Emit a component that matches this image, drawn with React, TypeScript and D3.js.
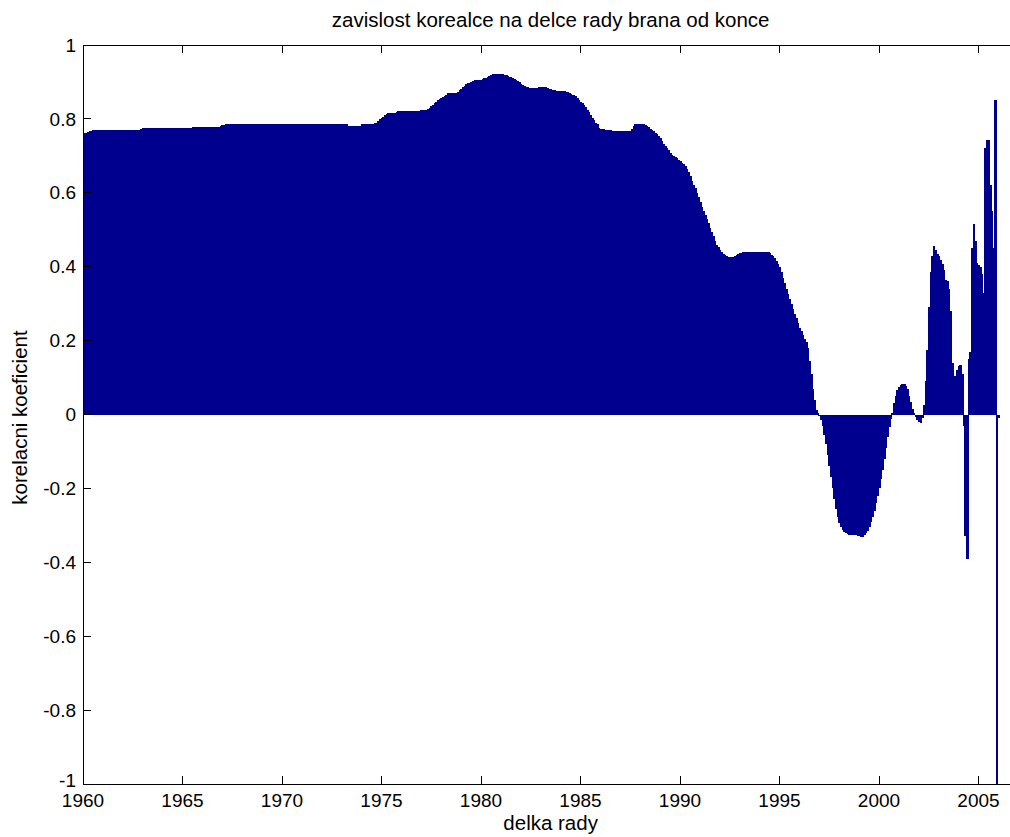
import React from "react";
import * as d3 from "d3";

// correlation coefficient for each monthly step (1960 Jan .. 2006 Jan)
const startYear = 1960;
const monthsPerYear = 12;
const korelace: number[] = [
  // 1960
  0.763, 0.763, 0.763, 0.764, 0.766, 0.768, 0.769, 0.77, 0.77, 0.77, 0.77, 0.77,
  // 1961
  0.77, 0.77, 0.77, 0.77, 0.77, 0.77, 0.77, 0.77, 0.77, 0.77, 0.77, 0.77,
  // 1962
  0.77, 0.77, 0.77, 0.77, 0.77, 0.77, 0.77, 0.77, 0.77, 0.77, 0.77, 0.773,
  // 1963
  0.775, 0.776, 0.776, 0.776, 0.776, 0.776, 0.776, 0.776, 0.776, 0.776, 0.776, 0.776,
  // 1964
  0.776, 0.776, 0.776, 0.776, 0.776, 0.776, 0.776, 0.776, 0.776, 0.776, 0.776, 0.776,
  // 1965
  0.776, 0.776, 0.776, 0.776, 0.776, 0.776, 0.778, 0.778, 0.778, 0.778, 0.778, 0.778,
  // 1966
  0.778, 0.778, 0.778, 0.778, 0.778, 0.778, 0.778, 0.778, 0.778, 0.778, 0.778, 0.781,
  // 1967
  0.783, 0.784, 0.785, 0.786, 0.786, 0.786, 0.786, 0.786, 0.786, 0.786, 0.786, 0.786,
  // 1968
  0.786, 0.786, 0.786, 0.786, 0.786, 0.786, 0.786, 0.786, 0.786, 0.786, 0.786, 0.786,
  // 1969
  0.786, 0.786, 0.786, 0.786, 0.786, 0.786, 0.786, 0.786, 0.786, 0.786, 0.786, 0.786,
  // 1970
  0.786, 0.786, 0.786, 0.786, 0.786, 0.786, 0.786, 0.786, 0.786, 0.786, 0.786, 0.786,
  // 1971
  0.786, 0.786, 0.786, 0.786, 0.786, 0.786, 0.786, 0.786, 0.786, 0.786, 0.786, 0.786,
  // 1972
  0.786, 0.786, 0.786, 0.786, 0.786, 0.786, 0.786, 0.786, 0.786, 0.786, 0.786, 0.786,
  // 1973
  0.786, 0.786, 0.786, 0.786, 0.782, 0.782, 0.782, 0.782, 0.782, 0.782, 0.782, 0.782,
  // 1974
  0.786, 0.786, 0.786, 0.786, 0.786, 0.786, 0.786, 0.786, 0.788, 0.79, 0.795, 0.8,
  // 1975
  0.803, 0.806, 0.81, 0.814, 0.815, 0.817, 0.817, 0.817, 0.817, 0.819, 0.821, 0.821,
  // 1976
  0.821, 0.821, 0.821, 0.821, 0.821, 0.821, 0.821, 0.821, 0.821, 0.821, 0.821, 0.822,
  // 1977
  0.824, 0.824, 0.824, 0.824, 0.827, 0.83, 0.834, 0.838, 0.842, 0.846, 0.85, 0.853,
  // 1978
  0.856, 0.86, 0.863, 0.866, 0.871, 0.871, 0.871, 0.871, 0.871, 0.871, 0.874, 0.877,
  // 1979
  0.881, 0.885, 0.889, 0.895, 0.898, 0.898, 0.9, 0.903, 0.905, 0.905, 0.905, 0.906,
  // 1980
  0.906, 0.908, 0.91, 0.912, 0.914, 0.916, 0.918, 0.921, 0.922, 0.922, 0.922, 0.922,
  // 1981
  0.922, 0.921, 0.919, 0.918, 0.916, 0.914, 0.913, 0.911, 0.908, 0.905, 0.902, 0.899,
  // 1982
  0.895, 0.892, 0.889, 0.887, 0.885, 0.884, 0.883, 0.883, 0.883, 0.883, 0.884, 0.886,
  // 1983
  0.886, 0.886, 0.886, 0.886, 0.884, 0.882, 0.88, 0.879, 0.877, 0.876, 0.876, 0.876,
  // 1984
  0.876, 0.876, 0.875, 0.874, 0.872, 0.87, 0.868, 0.866, 0.864, 0.862, 0.857, 0.852,
  // 1985
  0.847, 0.842, 0.837, 0.832, 0.825, 0.818, 0.81, 0.803, 0.797, 0.79, 0.785, 0.776,
  // 1986
  0.774, 0.772, 0.772, 0.771, 0.77, 0.77, 0.769, 0.768, 0.767, 0.766, 0.766, 0.766,
  // 1987
  0.766, 0.766, 0.766, 0.766, 0.766, 0.766, 0.768, 0.774, 0.78, 0.785, 0.786, 0.786,
  // 1988
  0.786, 0.786, 0.785, 0.783, 0.78, 0.777, 0.774, 0.771, 0.767, 0.762, 0.759, 0.755,
  // 1989
  0.748, 0.74, 0.732, 0.727, 0.722, 0.716, 0.709, 0.703, 0.7, 0.697, 0.694, 0.69,
  // 1990
  0.686, 0.682, 0.678, 0.672, 0.664, 0.655, 0.645, 0.633, 0.622, 0.612, 0.6, 0.588,
  // 1991
  0.575, 0.562, 0.55, 0.54, 0.528, 0.517, 0.506, 0.495, 0.483, 0.47, 0.46, 0.452,
  // 1992
  0.445, 0.439, 0.434, 0.431, 0.428, 0.426, 0.425, 0.425, 0.426, 0.428, 0.431, 0.434,
  // 1993
  0.436, 0.438, 0.44, 0.441, 0.441, 0.441, 0.441, 0.441, 0.441, 0.441, 0.441, 0.441,
  // 1994
  0.441, 0.441, 0.441, 0.441, 0.441, 0.44, 0.437, 0.433, 0.429, 0.424, 0.416, 0.407,
  // 1995
  0.398, 0.385, 0.37, 0.355, 0.34, 0.325, 0.312, 0.298, 0.285, 0.272, 0.26, 0.248,
  // 1996
  0.235, 0.225, 0.215, 0.205, 0.195, 0.18, 0.145, 0.11, 0.07, 0.04, 0.012, 0.003,
  // 1997
  -0.004, -0.015, -0.03, -0.055, -0.08, -0.11, -0.14, -0.17, -0.2, -0.228, -0.255, -0.278,
  // 1998
  -0.293, -0.304, -0.312, -0.317, -0.321, -0.324, -0.325, -0.326, -0.327, -0.327, -0.327, -0.328,
  // 1999
  -0.33, -0.331, -0.331, -0.327, -0.322, -0.315, -0.305, -0.292, -0.277, -0.26, -0.24, -0.22,
  // 2000
  -0.2, -0.175, -0.15, -0.12, -0.09, -0.06, -0.035, -0.012, 0.005, 0.03, 0.05, 0.065,
  // 2001
  0.075, 0.081, 0.083, 0.083, 0.078, 0.068, 0.05, 0.033, 0.015, 0.003, -0.008, -0.016,
  // 2002
  -0.02, -0.022, -0.01, 0.025, 0.09, 0.175, 0.29, 0.385, 0.43, 0.457, 0.445, 0.435,
  // 2003
  0.428, 0.418, 0.408, 0.39, 0.365, 0.36, 0.34, 0.28, 0.14, 0.105, 0.105, 0.12,
  // 2004
  0.13, 0.135, 0.11, -0.03, -0.33, -0.39, 0.15, 0.17, 0.45, 0.515, 0.47, 0.41,
  // 2005
  0.405, 0.4, 0.38, 0.33, 0.72, 0.742, 0.742, 0.62, 0.55, 0.45, 0.85, -1.0,
  // 2006
  -0.01,
];

const xTicks = [1960, 1965, 1970, 1975, 1980, 1985, 1990, 1995, 2000, 2005];
const yTicks = [-1, -0.8, -0.6, -0.4, -0.2, 0, 0.2, 0.4, 0.6, 0.8, 1];
const xDomain: [number, number] = [1960, 2007];
const yDomain: [number, number] = [-1, 1];

const titleText = "zavislost korealce na delce rady brana od konce";
const xLabel = "delka rady";
const yLabel = "korelacni koeficient";

const W = 1010;
const H = 837;
const left = 83;
const top = 45;
const bottom = 784;
const right = left + 47 * 19.9;
const barColor = "#00008F";
const font = "'Liberation Sans', Arial, Helvetica, sans-serif";

export default function App() {
  const x = d3.scaleLinear().domain(xDomain).range([left, right]);
  const y = d3.scaleLinear().domain(yDomain).range([bottom, top]);
  const step = x(startYear + 1 / monthsPerYear) - x(startYear);
  const y0 = y(0);
  const tick = 8;
  const fmt = (v: number) => (Math.abs(v) < 1e-9 ? "0" : String(+v.toFixed(1)));

  return (
    <svg
      width={W}
      height={H}
      style={{ position: "absolute", left: 0, top: 0, background: "#fff" }}
    >
      <defs>
        <clipPath id="plotClip">
          <rect x={left} y={top} width={right - left} height={bottom - top} />
        </clipPath>
      </defs>
      <rect x={0} y={0} width={W} height={H} fill="#fff" />
      <g clipPath="url(#plotClip)" shapeRendering="crispEdges">
        {korelace.map((v, i) => {
          const cx = x(startYear + i / monthsPerYear);
          const yv = y(v);
          return (
            <rect
              key={i}
              x={cx - step / 2}
              width={step + 0.8}
              y={Math.min(yv, y0)}
              height={Math.max(Math.abs(yv - y0), 1)}
              fill={barColor}
            />
          );
        })}
      </g>
      {/* axes box */}
      <g stroke="#000" strokeWidth={1} fill="none" shapeRendering="crispEdges">
        <line x1={left} x2={right} y1={bottom} y2={bottom} />
        <line x1={left} x2={right} y1={top} y2={top} />
        <line x1={left} x2={left} y1={top} y2={bottom} />
        <line x1={right} x2={right} y1={top} y2={bottom} />
        {xTicks.map((t) => (
          <g key={"xt" + t}>
            <line x1={x(t)} x2={x(t)} y1={bottom} y2={bottom - tick} />
            <line x1={x(t)} x2={x(t)} y1={top} y2={top + tick} />
          </g>
        ))}
        {yTicks.map((t) => (
          <g key={"yt" + t}>
            <line x1={left} x2={left + tick} y1={y(t)} y2={y(t)} />
            <line x1={right} x2={right - tick} y1={y(t)} y2={y(t)} />
          </g>
        ))}
      </g>
      <g fontFamily={font} fontSize={19} fill="#000">
        {xTicks.map((t) => (
          <text key={"xl" + t} x={x(t)} y={807} textAnchor="middle">
            {t}
          </text>
        ))}
        {yTicks.map((t) => (
          <text
            key={"yl" + t}
            x={76}
            y={t === -1 ? y(t) - 4 : y(t)}
            dy="0.35em"
            textAnchor="end"
          >
            {fmt(t)}
          </text>
        ))}
      </g>
      <g fontFamily={font} fontSize={20.5} fill="#000">
        <text x={(left + right) / 2} y={27} textAnchor="middle">
          {titleText}
        </text>
        <text x={(left + right) / 2} y={830} textAnchor="middle">
          {xLabel}
        </text>
        <text
          transform={`translate(27, ${(top + bottom) / 2 + 3}) rotate(-90)`}
          textAnchor="middle"
        >
          {yLabel}
        </text>
      </g>
    </svg>
  );
}
